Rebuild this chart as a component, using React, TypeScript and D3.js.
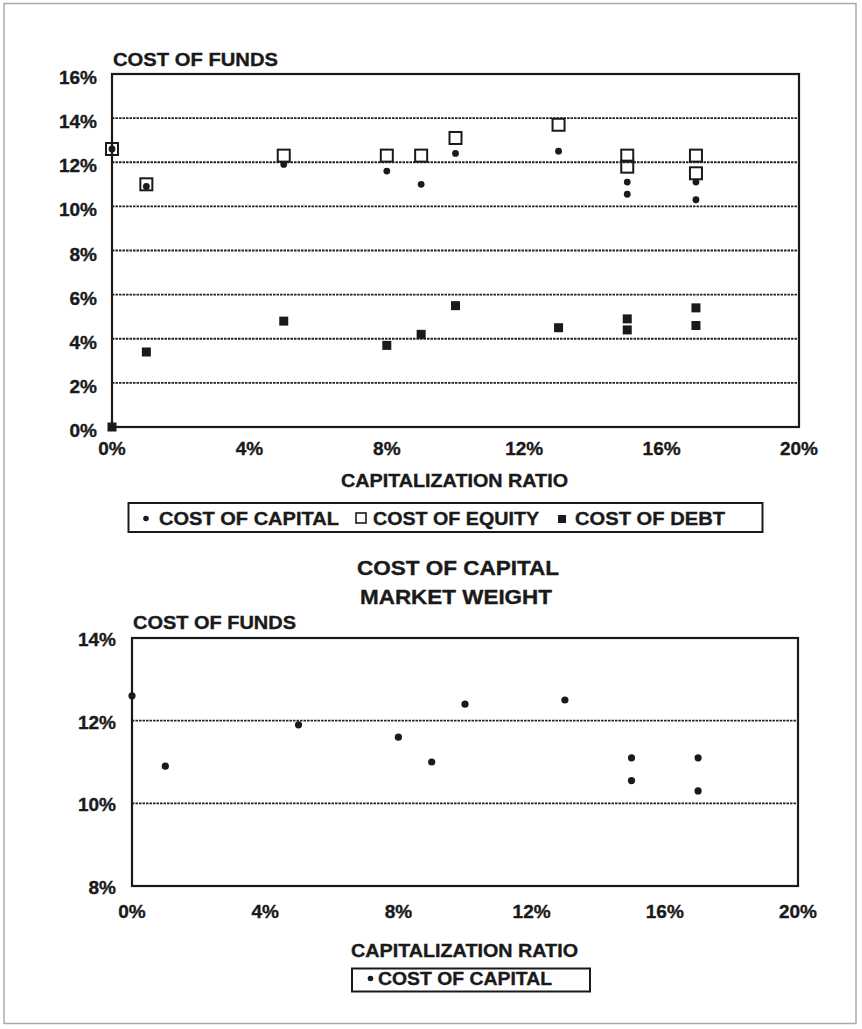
import React from "react";
import * as d3 from "d3";

// ---- data (percent values) ----
const capRatio = [0, 1, 5, 8, 9, 10, 13, 15, 15, 17, 17];
const costOfCapital = [12.6, 10.9, 11.9, 11.6, 11.0, 12.4, 12.5, 11.1, 10.55, 11.1, 10.3];
const costOfEquity = [12.6, 11.0, 12.3, 12.3, 12.3, 13.1, 13.7, 12.3, 11.8, 12.3, 11.5];
const costOfDebt = [0, 3.4, 4.8, 3.7, 4.2, 5.5, 4.5, 4.9, 4.4, 5.4, 4.6];

const xTicks = [0, 4, 8, 12, 16, 20];
const yTicksTop = [0, 2, 4, 6, 8, 10, 12, 14, 16];
const yTicksBottom = [8, 10, 12, 14];

const FONT = "'Liberation Sans', Arial, Helvetica, sans-serif";
const INK = "#1a1a1a";

const pct = (v: number) => `${v}%`;

export default function App() {
  const W = 862;
  const H = 1029;

  // top chart scales
  const xT = d3.scaleLinear().domain([0, 20]).range([112, 799]);
  const yT = d3.scaleLinear().domain([0, 16]).range([427, 74]);
  // bottom chart scales
  const xB = d3.scaleLinear().domain([0, 20]).range([132, 798]);
  const yB = d3.scaleLinear().domain([8, 14]).range([886, 638]);

  const txt = (
    s: string,
    x: number,
    y: number,
    opts: { size?: number; anchor?: string; len?: number } = {}
  ) => (
    <text
      x={x}
      y={y}
      fontFamily={FONT}
      fontWeight="bold"
      fontSize={opts.size ?? 19}
      fill={INK}
      stroke={INK}
      strokeWidth={0.35}
      textAnchor={(opts.anchor as any) ?? "start"}
      textLength={opts.len}
      lengthAdjust={opts.len ? "spacingAndGlyphs" : undefined}
    >
      {s}
    </text>
  );

  const [tx0, tx1] = xT.range();
  const [ty0, ty1] = yT.range();
  const [bx0, bx1] = xB.range();
  const [by0, by1] = yB.range();

  const grid = { stroke: "#222", strokeWidth: 1.8, strokeDasharray: "2.5 1" };

  return (
    <svg
      width={W}
      height={H}
      style={{ position: "absolute", left: 0, top: 0, background: "#fff" }}
    >
      <rect x={0} y={0} width={W} height={H} fill="#fff" />
      <rect x={4} y={3.5} width={852} height={1020} fill="none" stroke="#aaa" strokeWidth={1.5} />

      {/* ===== TOP CHART ===== */}
      {txt("COST OF FUNDS", 113, 66, { size: 18.5, len: 165 })}
      {yTicksTop
        .filter((t) => t > 0 && t < 16)
        .map((t) => (
          <line key={"gt" + t} x1={tx0} x2={tx1} y1={yT(t)} y2={yT(t)} {...grid} />
        ))}
      <rect
        x={tx0}
        y={ty1}
        width={tx1 - tx0}
        height={ty0 - ty1}
        fill="none"
        stroke={INK}
        strokeWidth={2.2}
      />
      {yTicksTop.map((t) => (
        <g key={"yt" + t}>{txt(pct(t), 97, yT(t) + 10, { anchor: "end" })}</g>
      ))}
      {xTicks.map((t) => (
        <g key={"xt" + t}>{txt(pct(t), xT(t), 455, { anchor: "middle" })}</g>
      ))}
      {txt("CAPITALIZATION RATIO", 341, 487, { size: 18.5, len: 227 })}

      {/* cost of debt - filled squares */}
      {capRatio.map((c, i) => (
        <rect
          key={"d" + i}
          x={xT(c) - 4.5}
          y={yT(costOfDebt[i]) - 4.5}
          width={9}
          height={9}
          fill={INK}
        />
      ))}
      {/* cost of equity - hollow squares */}
      {capRatio.map((c, i) => (
        <rect
          key={"e" + i}
          x={xT(c) - 6}
          y={yT(costOfEquity[i]) - 6}
          width={12}
          height={12}
          fill="none"
          stroke={INK}
          strokeWidth={2}
        />
      ))}
      {/* cost of capital - dots */}
      {capRatio.map((c, i) => (
        <circle key={"c" + i} cx={xT(c)} cy={yT(costOfCapital[i])} r={3.4} fill={INK} />
      ))}

      {/* top legend */}
      <rect x={128.5} y={503} width={634} height={29} fill="none" stroke={INK} strokeWidth={2} />
      <circle cx={146} cy={518.5} r={2.8} fill={INK} />
      {txt("COST OF CAPITAL", 159, 525, { size: 18.5, len: 180 })}
      <rect x={356} y={513} width={10} height={10} fill="none" stroke={INK} strokeWidth={1.6} />
      {txt("COST OF EQUITY", 373, 525, { size: 18.5, len: 166 })}
      <rect x={558} y={515} width={8} height={8} fill={INK} />
      {txt("COST OF DEBT", 575, 525, { size: 18.5, len: 150 })}

      {/* ===== TITLE ===== */}
      {txt("COST OF CAPITAL", 357, 574.5, { size: 20, len: 202 })}
      {txt("MARKET WEIGHT", 360, 603.5, { size: 20, len: 192 })}

      {/* ===== BOTTOM CHART ===== */}
      {txt("COST OF FUNDS", 133, 628.5, { size: 18.5, len: 163 })}
      {yTicksBottom
        .filter((t) => t > 8 && t < 14)
        .map((t) => (
          <line key={"gb" + t} x1={bx0} x2={bx1} y1={yB(t)} y2={yB(t)} {...grid} />
        ))}
      <rect
        x={bx0}
        y={by1}
        width={bx1 - bx0}
        height={by0 - by1}
        fill="none"
        stroke={INK}
        strokeWidth={2.2}
      />
      {yTicksBottom.map((t) => (
        <g key={"yb" + t}>{txt(pct(t), 116, yB(t) + 8, { anchor: "end" })}</g>
      ))}
      {xTicks.map((t) => (
        <g key={"xb" + t}>{txt(pct(t), xB(t), 918, { anchor: "middle" })}</g>
      ))}
      {txt("CAPITALIZATION RATIO", 351, 957, { size: 18.5, len: 227 })}

      {capRatio.map((c, i) => (
        <circle key={"cb" + i} cx={xB(c)} cy={yB(costOfCapital[i])} r={3.6} fill={INK} />
      ))}

      {/* bottom legend */}
      <rect x={352} y={968.5} width={238} height={23} fill="none" stroke={INK} strokeWidth={2} />
      <circle cx={370.5} cy={978.5} r={2.8} fill={INK} />
      {txt("COST OF CAPITAL", 378, 985, { size: 18.5, len: 174 })}
    </svg>
  );
}
